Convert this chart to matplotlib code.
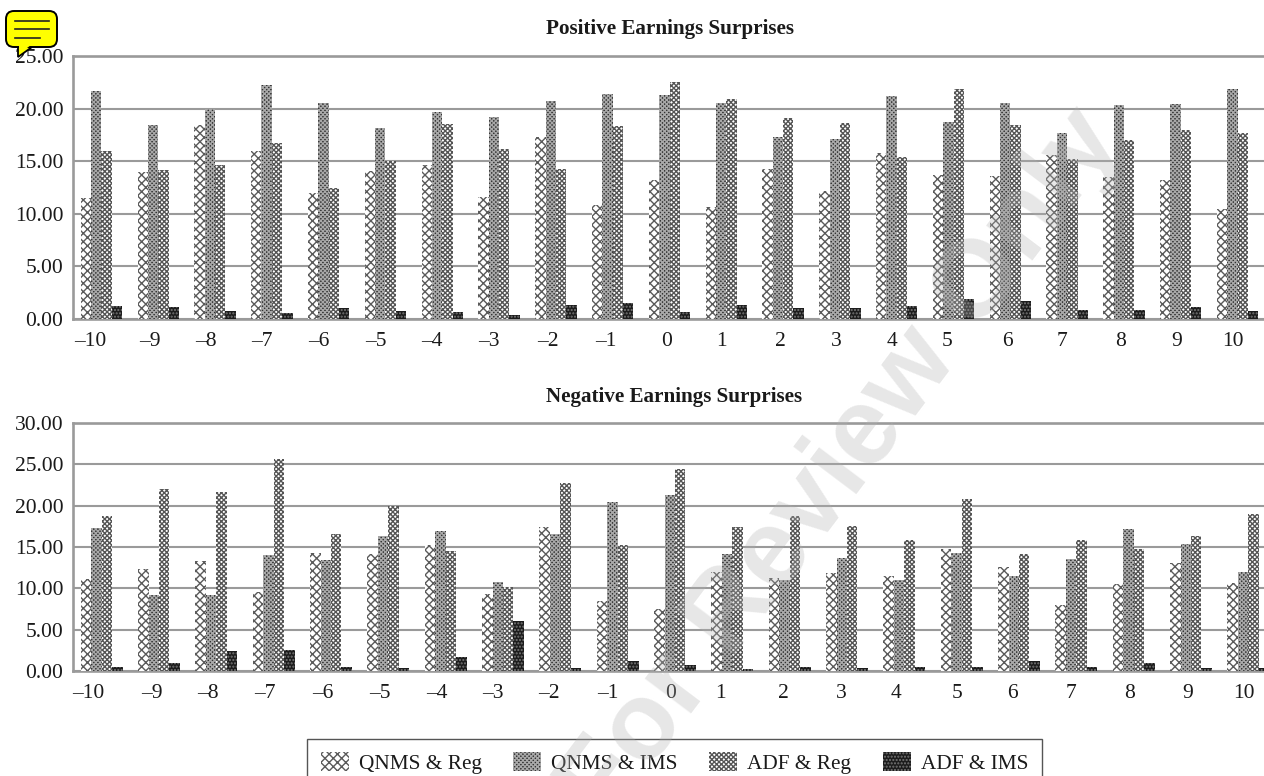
import matplotlib
matplotlib.use("Agg")
import matplotlib.pyplot as plt
import numpy as np
from matplotlib.patches import FancyBboxPatch, Polygon
from matplotlib.transforms import ScaledTranslation

plt.rcParams["font.family"] = ["Liberation Serif", "DejaVu Serif"]
plt.rcParams["hatch.linewidth"] = 1.0

# --- Data ---
lags = ["\u201310", "\u20139", "\u20138", "\u20137", "\u20136", "\u20135", "\u20134", "\u20133", "\u20132", "\u20131",
        "0", "1", "2", "3", "4", "5", "6", "7", "8", "9", "10"]
y_ticks_pos = [0, 5, 10, 15, 20, 25]
y_ticks_neg = [0, 5, 10, 15, 20, 25, 30]

pos_qnms_reg = [11.5, 14.0, 18.4, 16.0, 12.0, 14.1, 14.6, 11.6, 17.3, 10.8, 13.2, 10.6, 14.3, 12.2, 15.8, 13.7, 13.6, 15.6, 13.5, 13.2, 10.5]
pos_qnms_ims = [21.7, 18.4, 20.0, 22.2, 20.5, 18.2, 19.7, 19.2, 20.7, 21.4, 21.3, 20.5, 17.3, 17.1, 21.2, 18.7, 20.5, 17.7, 20.3, 20.4, 21.9]
pos_adf_reg = [16.0, 14.2, 14.6, 16.7, 12.5, 15.0, 18.5, 16.2, 14.3, 18.3, 22.5, 20.9, 19.1, 18.6, 15.4, 21.9, 18.4, 15.2, 17.0, 18.0, 17.7]
pos_adf_ims = [1.2, 1.1, 0.8, 0.6, 1.0, 0.8, 0.7, 0.4, 1.3, 1.5, 0.7, 1.3, 1.0, 1.0, 1.2, 1.9, 1.7, 0.9, 0.9, 1.1, 0.8]

neg_qnms_reg = [11.1, 12.3, 13.3, 9.5, 14.3, 14.2, 15.2, 9.3, 17.4, 8.5, 7.5, 12.0, 11.2, 11.9, 11.5, 14.8, 12.6, 8.0, 10.5, 13.1, 10.6]
neg_qnms_ims = [17.3, 9.2, 9.2, 14.0, 13.4, 16.3, 16.9, 10.8, 16.6, 20.5, 21.3, 14.1, 11.0, 13.7, 11.0, 14.3, 11.5, 13.5, 17.2, 15.4, 12.0]
neg_adf_reg = [18.8, 22.0, 21.7, 25.6, 16.6, 19.9, 14.5, 10.2, 22.8, 15.2, 24.4, 17.4, 18.8, 17.5, 15.9, 20.8, 14.2, 15.9, 14.7, 16.3, 19.0]
neg_adf_ims = [0.5, 1.0, 2.4, 2.6, 0.5, 0.4, 1.7, 6.0, 0.4, 1.2, 0.7, 0.2, 0.5, 0.4, 0.5, 0.5, 1.2, 0.5, 1.0, 0.4, 0.4]

series_names = ["QNMS & Reg", "QNMS & IMS", "ADF & Reg", "ADF & IMS"]
styles = [
    {"facecolor": "white", "edgecolor": "#5a5a5a", "hatch": "xxxx"},
    {"facecolor": "#333333", "edgecolor": "#a8a8a8", "hatch": "xxxxxxxx"},
    {"facecolor": "white", "edgecolor": "#555555", "hatch": "xxxxxxx"},
    {"facecolor": "#1c1c1c", "edgecolor": "#777777", "hatch": "....."},
]

# the labels sit unevenly under the groups in the source (pixels)
label_shift_pos = [-11, -8, -9, -10, -10, -10, -10, -10, -8, -7, -3, -5, -3, -4, -5, -6, -3, -5, -3, -4, -5]
label_shift_neg = [-13, -7, -8, -9, -8, -8, -9, -10, -11, -10, -4, -12, -6, -6, -8, -5, -7, -5, -4, -3, -4]

W, H = 1264, 776
GREY = "#9a9a9a"
TEXT = "#1a1a1a"
fig = plt.figure(figsize=(W / 100, H / 100), dpi=100)


def make_axes(left, right, top, bottom):
    ax = fig.add_axes([left / W, 1 - bottom / H, (right - left) / W, (bottom - top) / H])
    ax.patch.set_alpha(0)
    return ax


def draw_panel(ax, series, ticks, title, title_x, title_y, shifts):
    x = np.arange(len(lags))
    width = 0.182
    bars = []
    for i, (vals, st) in enumerate(zip(series, styles)):
        bars.append(ax.bar(x + (i - 1.5) * width, vals, width, linewidth=0, zorder=3, **st))
    ax.set_xlim(-0.5, len(lags) - 0.5)
    ax.set_ylim(ticks[0], ticks[-1])
    ax.set_yticks(ticks)
    ax.set_yticklabels([f"{t:.2f}" for t in ticks], fontsize=15.5, color=TEXT)
    ax.set_xticks(x)
    ax.set_xticklabels(lags, fontsize=15.5, color=TEXT)
    ax.tick_params(axis="x", length=0, pad=9)
    ax.tick_params(axis="y", length=0, pad=7)
    for lab, dx in zip(ax.get_xticklabels(), shifts):
        lab.set_transform(lab.get_transform() + ScaledTranslation(dx / 100, 0, fig.dpi_scale_trans))
    ax.grid(axis="y", color=GREY, linewidth=1.5, zorder=0)
    ax.set_axisbelow(True)
    for side in ["left", "bottom", "top"]:
        ax.spines[side].set_color(GREY)
        ax.spines[side].set_linewidth(1.9)
    ax.spines["right"].set_visible(False)
    fig.text(title_x / W, 1 - title_y / H, title, ha="center", va="center", fontsize=15.2, fontweight="bold", color=TEXT)
    return bars


ax_pos = make_axes(73, 1266, 56, 319)
bars = draw_panel(ax_pos, [pos_qnms_reg, pos_qnms_ims, pos_adf_reg, pos_adf_ims], y_ticks_pos,
                  "Positive Earnings Surprises", 670.5, 29, label_shift_pos)
# lower panel is drawn slightly wider and runs off the right edge
ax_neg = make_axes(73, 1277, 423, 671)
draw_panel(ax_neg, [neg_qnms_reg, neg_qnms_ims, neg_adf_reg, neg_adf_ims], y_ticks_neg,
           "Negative Earnings Surprises", 674.5, 397, label_shift_neg)

# legend box runs past the bottom edge
fig.legend(bars, series_names, loc="lower center", bbox_to_anchor=(674.5 / W, -12 / H), ncol=4,
           fontsize=15.3, frameon=True, fancybox=False, edgecolor="#555555", framealpha=1,
           handlelength=1.3, handleheight=1.0, columnspacing=1.5, handletextpad=0.47,
           borderpad=0.65, borderaxespad=0, labelcolor=TEXT)

# faint watermark laid over the page
fig.text(843 / W, 1 - 466 / H, "For Review Only", rotation=53, rotation_mode="anchor", ha="center", va="center",
         fontsize=79, fontweight="bold", family="Liberation Sans", color="#b0b0b0", alpha=0.3, zorder=20)

# yellow comment icon, in pixel coordinates
over = fig.add_axes([0, 0, 1, 1], zorder=30)
over.set_xlim(0, W)
over.set_ylim(H, 0)
over.axis("off")
over.add_patch(Polygon([[18, 47], [18, 57], [32, 47]], closed=True, facecolor="#ffff00", edgecolor="black", linewidth=1.3))
over.add_patch(FancyBboxPatch((6, 11), 51, 36, boxstyle="round,pad=0,rounding_size=8",
                              facecolor="#ffff00", edgecolor="black", linewidth=1.4))
over.add_patch(Polygon([[19, 45], [19, 54], [31, 45]], closed=True, facecolor="#ffff00", edgecolor="none"))
over.plot([15, 49], [21, 21], color="#222222", lw=1.2)
over.plot([15, 49], [29, 29], color="#222222", lw=1.2)
over.plot([15, 40], [38, 38], color="#222222", lw=1.2)

fig.savefig("out.png", dpi=100)
